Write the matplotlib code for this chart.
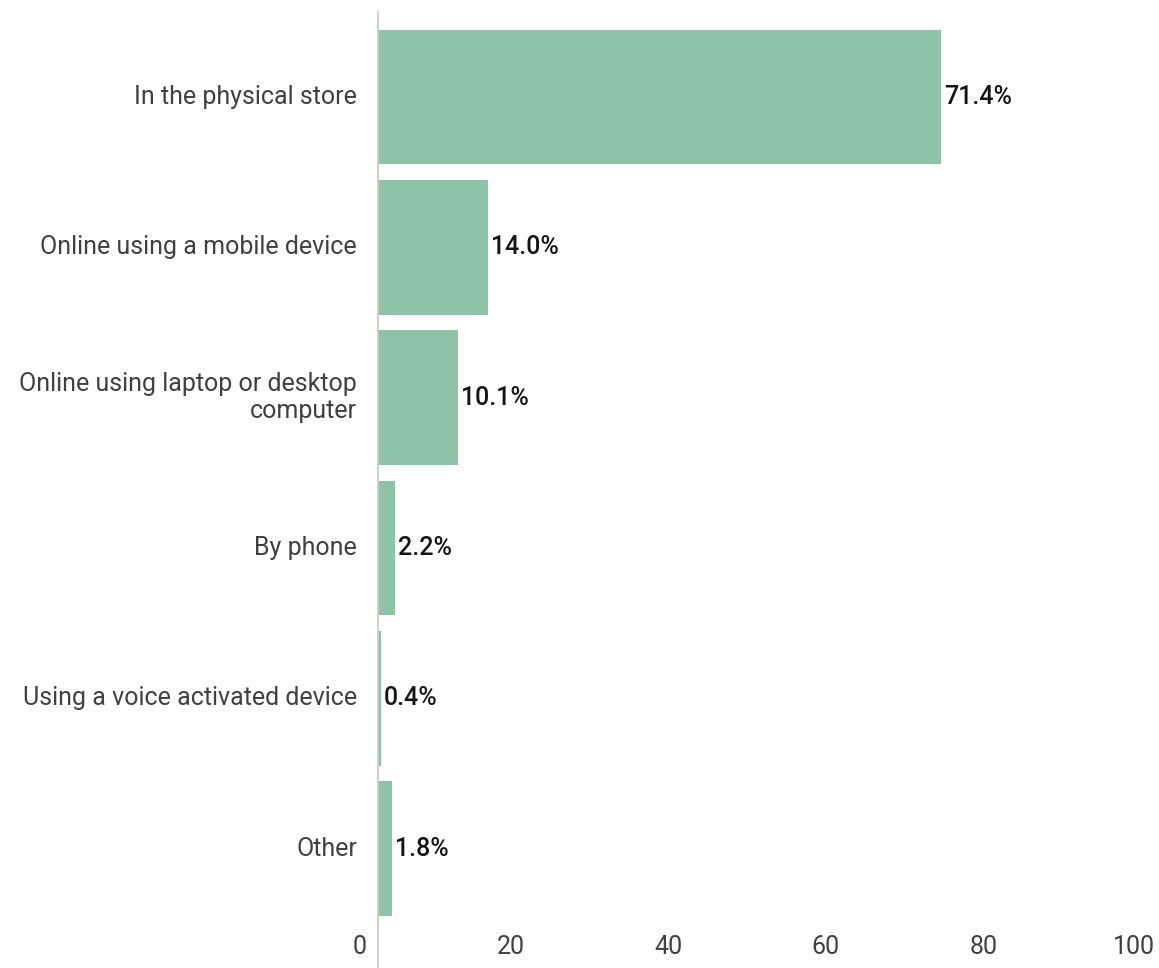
import matplotlib
matplotlib.use("Agg")
import matplotlib.pyplot as plt
from matplotlib import font_manager

categories = [
    "In the physical store",
    "Online using a mobile device",
    "Online using laptop or desktop\ncomputer",
    "By phone",
    "Using a voice activated device",
    "Other",
]
values = [71.4, 14.0, 10.1, 2.2, 0.4, 1.8]
xticks = [0, 20, 40, 60, 80, 100]

BAR = "#8dc3a6"
LABEL = "#404040"
W, H = 1159, 968

names = {f.name for f in font_manager.fontManager.ttflist}
tick_family = "Liberation Sans Narrow" if "Liberation Sans Narrow" in names else "Roboto"

plt.rcParams["font.family"] = ["Roboto", "DejaVu Sans"]

fig = plt.figure(figsize=(W / 100, H / 100), dpi=100)
# the value axis runs a little past the right edge so that 100 sits off-canvas
ax = fig.add_axes([378 / W, 0, 788 / W, (H - 12) / H])

ypos = list(range(len(categories)))
ax.barh(ypos, values, height=0.895, color=BAR, zorder=2)
ax.set_xlim(0, 100)
ax.set_ylim(5.793, -0.564)

for spine in ["top", "right", "bottom"]:
    ax.spines[spine].set_visible(False)
ax.spines["left"].set_color("#cccccc")
ax.spines["left"].set_linewidth(1.3)
ax.set_xticks([])
ax.set_yticks([])

for y, name in zip(ypos, categories):
    ax.annotate(name, (0, y), xytext=(-21, 0), textcoords="offset pixels",
                ha="right", va="center", fontsize=18, color=LABEL,
                linespacing=1.2, annotation_clip=False)

for y, v in zip(ypos, values):
    ax.annotate(f"{v:.1f}%", (v, y), xytext=(3, 0), textcoords="offset pixels",
                ha="left", va="center", fontsize=18, color="#151515",
                fontweight="medium")

for t in xticks:
    ax.annotate(str(t), (t, 0), xycoords=("data", "axes fraction"),
                xytext=(-11, 21), textcoords="offset pixels",
                ha="right", va="center", fontsize=18, color=LABEL,
                family=tick_family, annotation_clip=False)

fig.savefig("out.png", dpi=100, facecolor="white")
